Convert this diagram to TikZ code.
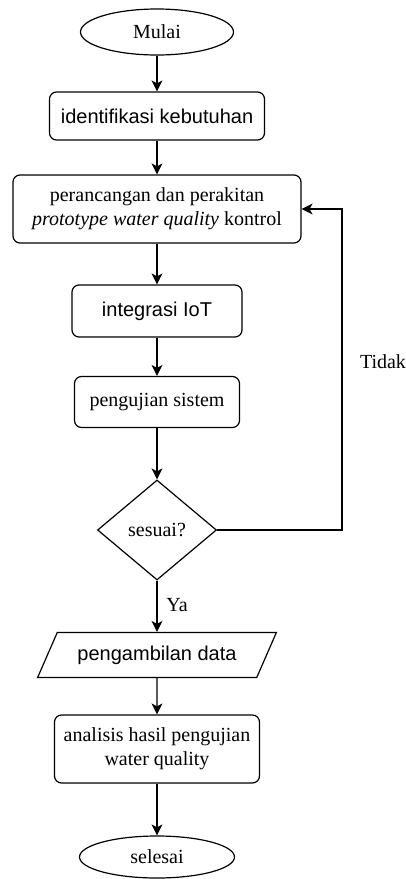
\documentclass[tikz,border=0pt]{standalone}
\usepackage{fontspec}
\setmainfont{Liberation Serif}
\setsansfont{Liberation Sans}
\usetikzlibrary{shapes.geometric,arrows.meta}
\begin{document}
\begin{tikzpicture}
        [x=1pt, y=-1pt,
        terminal/.style={ellipse, draw, line width=1.2pt, inner sep=0pt, minimum width=153pt, minimum height=46pt, font=\fontsize{20}{24}\selectfont},
        proses/.style={rectangle, rounded corners=7pt, draw, line width=1.2pt, inner sep=0pt, align=center, font=\fontsize{20}{24}\selectfont},
        prosessf/.style={proses, font=\sffamily\fontsize{20}{24}\selectfont},
        keputusan/.style={diamond, draw, line width=1.2pt, inner sep=0pt, aspect=1.19, minimum width=119pt, minimum height=100pt, font=\fontsize{20}{24}\selectfont},
        data/.style={trapezium, trapezium left angle=50, trapezium right angle=130, trapezium stretches=true, draw, line width=1.2pt, inner sep=0pt, font=\sffamily\fontsize{20}{24}\selectfont},
        label/.style={font=\fontsize{20}{24}\selectfont},
        edge/.style={line width=1.2pt, -{Stealth[length=11pt, width=11pt, inset=3pt]}}]

        \useasboundingbox (0,0) rectangle (406,879);

        \node[terminal] (mulai) at (157,32) {Mulai};
        \node[prosessf, minimum width=215pt, minimum height=48pt] (identifikasi) at (157,116) {identifikasi kebutuhan};
        \node[proses, minimum width=288pt, minimum height=68pt] (rakit) at (157,209) {perancangan dan perakitan\\\textit{prototype water quality} kontrol};
        \node[prosessf, minimum width=170pt, minimum height=52pt] (iot) at (157,311) {integrasi IoT};
        \node[proses, minimum width=165pt, minimum height=51pt] (uji) at (157,402) {pengujian sistem};
        \node[keputusan] (sesuai) at (157,530) {sesuai?};
        \node[data, minimum width=239pt, minimum height=45pt] (ambil) at (157,655) {pengambilan data};
        \node[proses, minimum width=205pt, minimum height=68pt] (analisis) at (157,749) {analisis hasil pengujian\\water quality};
        \node[terminal, minimum width=155pt, minimum height=42pt] (selesai) at (157,857) {selesai};

        % Labels for the decision
        \node[label] (tidak) at (383,362) {Tidak};
        \node[label] (ya) at (177,605) {Ya};

        % main flow
        \draw[edge] (mulai) -- (identifikasi);
        \draw[edge] (identifikasi) -- (rakit);
        \draw[edge] (rakit) -- (iot);
        \draw[edge] (iot) -- (uji);
        \draw[edge] (uji) -- (sesuai);
        \draw[edge] (sesuai) -- (ambil);
        \draw[edge] (ambil) -- (analisis);
        \draw[edge] (analisis) -- (selesai);

        % back loop (Tidak)
        \coordinate (balik) at (342,530);
        \draw[edge] (sesuai.east) -- (balik) |- (rakit.east);

\end{tikzpicture}
\end{document}
